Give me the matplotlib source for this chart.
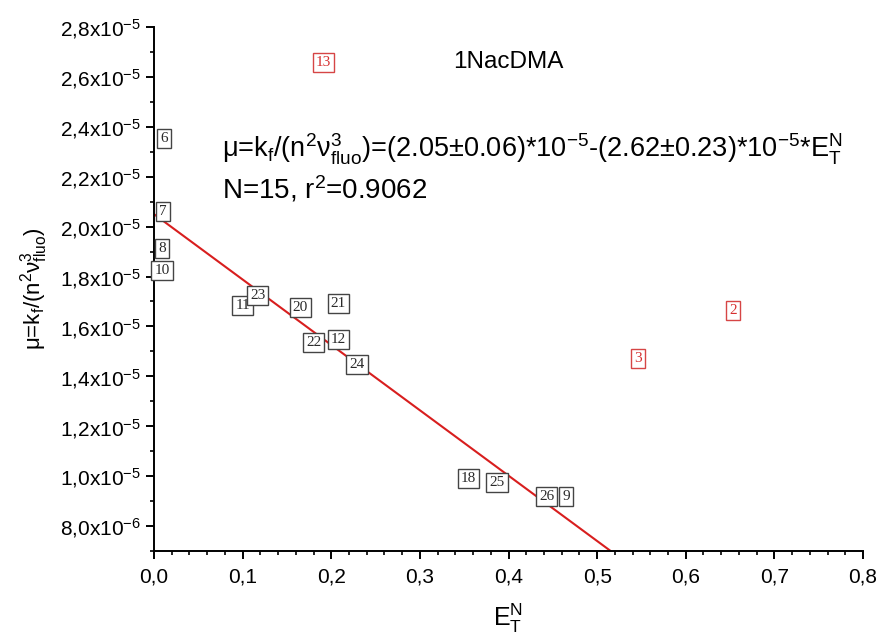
import numpy as np
import matplotlib
matplotlib.use('Agg')
import matplotlib.pyplot as plt
from matplotlib.ticker import MultipleLocator, FuncFormatter

# solvent data: label, E_T^N, mu
labels = ['13', '6', '7', '8', '10', '11', '23', '20', '21', '22', '12', '24',
          '18', '25', '26', '9', '2', '3']
etn = [0.191, 0.011, 0.010, 0.009, 0.009, 0.100, 0.117, 0.165, 0.208, 0.180,
       0.208, 0.229, 0.355, 0.387, 0.443, 0.465, 0.653, 0.546]
mu = [2.656e-5, 2.352e-5, 2.06e-5, 1.912e-5, 1.824e-5, 1.684e-5, 1.724e-5,
      1.676e-5, 1.692e-5, 1.536e-5, 1.548e-5, 1.448e-5, 0.992e-5, 0.976e-5,
      0.920e-5, 0.920e-5, 1.664e-5, 1.472e-5]
excluded = ['13', '2', '3']

# linear fit
intercept = 2.05e-5
slope = -2.62e-5


def y_fmt(v, pos):
    e = int(np.floor(np.log10(v) + 1e-9))
    m = v / 10 ** e
    return ('%.1f' % m).replace('.', ',') + 'x10$^{%d}$' % e


def x_fmt(v, pos):
    return ('%.1f' % v).replace('.', ',')


def run():
    plt.rcParams['font.family'] = 'Liberation Sans'
    plt.rcParams['mathtext.default'] = 'regular'
    fig = plt.figure(figsize=(8.81, 6.38), dpi=100)
    ax = fig.add_axes([154 / 881, 87 / 638, 709 / 881, 524 / 638])

    xs = np.array([0.0, 0.8])
    ax.plot(xs, intercept + slope * xs, color='#d81e1e', lw=1.5, zorder=2)

    for lab, x, y in zip(labels, etn, mu):
        c = '#d62f2f' if lab in excluded else '#2a2a2a'
        ec = '#d64545' if lab in excluded else '#444444'
        ax.text(x, y, lab, ha='center', va='center', fontsize=11,
                family='Liberation Serif', color=c, zorder=3,
                bbox=dict(boxstyle='square,pad=0.2', fc='white', ec=ec, lw=1.0))

    ax.set_xlim(0, 0.8)
    ax.set_ylim(7e-6, 2.8e-5)
    ax.xaxis.set_major_locator(MultipleLocator(0.1))
    ax.xaxis.set_minor_locator(MultipleLocator(0.02))
    ax.yaxis.set_major_locator(MultipleLocator(2e-6))
    ax.yaxis.set_minor_locator(MultipleLocator(1e-6))
    ax.xaxis.set_major_formatter(FuncFormatter(x_fmt))
    ax.yaxis.set_major_formatter(FuncFormatter(y_fmt))
    for s in ['top', 'right']:
        ax.spines[s].set_visible(False)
    for s in ['left', 'bottom']:
        ax.spines[s].set_linewidth(1.4)
    ax.tick_params(which='major', direction='out', length=6, width=1.4, labelsize=15)
    ax.tick_params(which='minor', direction='out', length=3, width=1.2)
    ax.tick_params(axis='x', pad=6)

    ax.set_xlabel('E$_T^N$', fontsize=18, labelpad=11)
    ax.set_ylabel('μ=k$_f$/(n$^2$ν$^3_{fluo}$)', fontsize=16, labelpad=7)

    ax.text(0.40, 2.66e-5, '1NacDMA', fontsize=17.5, ha='center', va='center')
    ax.text(0.077, 2.31e-5,
            'μ=k$_f$/(n$^2$ν$^3_{fluo}$)=(2.05±0.06)*10$^{-5}$-(2.62±0.23)*10$^{-5}$*E$_T^N$',
            fontsize=19.5, ha='left', va='center')
    ax.text(0.077, 2.15e-5, 'N=15, r$^2$=0.9062', fontsize=20, ha='left', va='center')

    fig.savefig('out.png', dpi=100)


if __name__ == '__main__':
    run()
